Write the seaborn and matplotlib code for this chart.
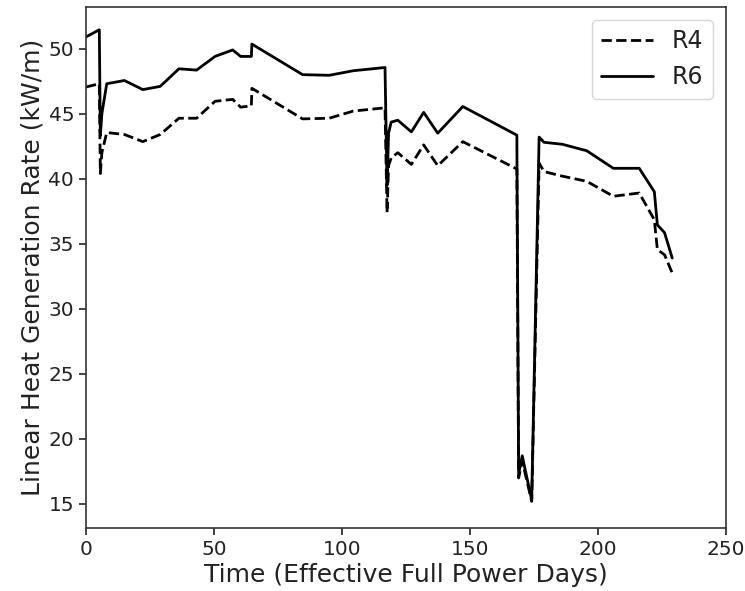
import matplotlib
matplotlib.use("Agg")
import matplotlib.pyplot as plt
import seaborn as sns
import pandas as pd

# Time grid (Effective Full Power Days), shared by both series
time_efpd = [0, 5.2, 5.6, 6.2, 8.1, 15.0, 22.2, 29.0, 36.3, 43.2, 50.4, 57.3,
             60.4, 64.6, 64.8, 84.6, 95.0, 104.4, 116.8, 117.6, 118.2, 119.2,
             121.8, 127.1, 131.9, 137.4, 147.2, 168.3, 169.0, 170.4, 174.1,
             177.0, 178.9, 186.0, 195.6, 206.0, 216.1, 222.0, 223.2, 226.0, 229.0]

r4_lhgr = [47.05, 47.3, 40.4, 42.0, 43.55, 43.4, 42.85, 43.4, 44.65, 44.65, 45.95, 46.1,
           45.5, 45.6, 46.95, 44.6, 44.65, 45.2, 45.45, 37.4, 41.0, 41.6,
           42.0, 41.1, 42.6, 41.0, 42.85, 40.75, 17.0, 18.3, 15.2,
           41.2, 40.55, 40.2, 39.8, 38.65, 38.9, 36.85, 34.55, 34.15, 32.75]

r6_lhgr = [50.9, 51.45, 43.3, 45.0, 47.3, 47.55, 46.85, 47.1, 48.45, 48.35, 49.4, 49.9,
           49.4, 49.4, 50.35, 48.0, 47.95, 48.3, 48.55, 39.5, 43.5, 44.35,
           44.5, 43.6, 45.1, 43.5, 45.55, 43.35, 17.3, 18.7, 15.3,
           43.2, 42.8, 42.65, 42.15, 40.8, 40.8, 39.0, 36.45, 35.85, 33.9]

series_names = ["R4", "R6"]

df = pd.concat([
    pd.DataFrame({"Time": time_efpd, "LHGR": r4_lhgr, "Rod": series_names[0]}),
    pd.DataFrame({"Time": time_efpd, "LHGR": r6_lhgr, "Rod": series_names[1]}),
], ignore_index=True)

sns.set_style("ticks")
plt.rcParams["font.family"] = ["DejaVu Sans"]

fig = plt.figure(figsize=(7.45, 5.91), dpi=100)
ax = fig.add_axes([86 / 745, 1 - 528 / 591, 640 / 745, 521 / 591])

sns.lineplot(data=df, x="Time", y="LHGR", style="Rod", style_order=series_names,
             dashes={"R4": (3.7, 1.6), "R6": ""}, color="black", linewidth=2,
             estimator=None, sort=False, ax=ax)

ax.set_xlim(0, 250)
ax.set_ylim(13.15, 53.2)
ax.set_xticks([0, 50, 100, 150, 200, 250])
ax.set_yticks([15, 20, 25, 30, 35, 40, 45, 50])
ax.tick_params(labelsize=14.5, length=5, width=1.2, colors="#222222")
for s in ax.spines.values():
    s.set_color("#333333")
    s.set_linewidth(1.2)
ax.set_xlabel("Time (Effective Full Power Days)", fontsize=18, color="#222222", labelpad=3)
ax.set_ylabel("Linear Heat Generation Rate (kW/m)", fontsize=18, color="#222222", labelpad=3)

leg = ax.legend(loc="upper right", fontsize=17, frameon=True, handlelength=2.2,
                borderaxespad=0.55)
leg.get_frame().set_edgecolor("#cccccc")
for t in leg.get_texts():
    t.set_color("#222222")

fig.savefig("out.png", dpi=100)
